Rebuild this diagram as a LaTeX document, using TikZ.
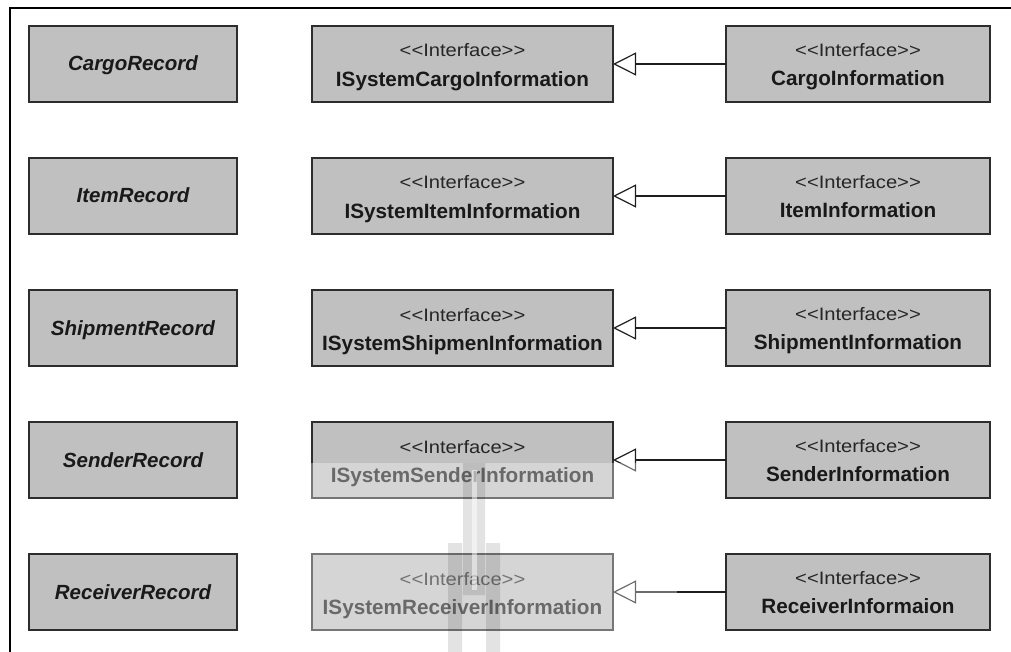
\documentclass[tikz,border=0pt]{standalone}
\usepackage{fontspec}
\setmainfont{Liberation Sans}
\newfontfamily\stereofont[FakeStretch=1.12]{Liberation Sans}
\usetikzlibrary{arrows.meta}

\definecolor{boxfill}{RGB}{192,192,192}
\definecolor{boxline}{RGB}{45,45,45}
\definecolor{linecol}{RGB}{30,30,30}

\begin{document}
\begin{tikzpicture}[x=1pt,y=-1pt,
  umlbox/.style={draw=boxline, fill=boxfill, line width=1.4pt,
    minimum height=76pt, inner sep=0pt, outer sep=0pt},
  recordbox/.style={umlbox, minimum width=208pt},
  ifacebox/.style={umlbox, minimum width=301pt},
  implbox/.style={umlbox, minimum width=264pt},
  recname/.style={anchor=base, inner sep=0pt, text=black!90,
    font=\fontsize{20.5}{24}\selectfont\bfseries\itshape},
  stereo/.style={anchor=base, inner sep=0pt, text=black!85,
    font=\stereofont\fontsize{18}{21}\selectfont},
  ifname/.style={anchor=base, inner sep=0pt, text=black!90,
    font=\fontsize{20.7}{24}\selectfont\bfseries},
  realize/.style={draw=linecol, line width=1.2pt,
    -{Triangle[open, length=23pt, width=23pt, line width=1.2pt]}}
]
\useasboundingbox (0,0) rectangle (1011,652);

% outer frame (top and left edges)
\draw[line width=2pt, black] (9.5,652) -- (9.5,8) -- (1011,8);

% one row per record: record class, system interface, information interface
\foreach \i/\rec/\sys/\inf in {
  1/CargoRecord/ISystemCargoInformation/CargoInformation,
  2/ItemRecord/ISystemItemInformation/ItemInformation,
  3/ShipmentRecord/ISystemShipmenInformation/ShipmentInformation,
  4/SenderRecord/ISystemSenderInformation/SenderInformation,
  5/ReceiverRecord/ISystemReceiverInformation/ReceiverInformaion}{
  \pgfmathsetmacro\yy{64+132*(\i-1)}
  \node[recordbox] (rec\i) at (133,\yy) {};
  \node[ifacebox]  (sys\i) at (462.5,\yy) {};
  \node[implbox]   (inf\i) at (858,\yy) {};
  \path (rec\i.north) ++(0,45) node[recname] (recT\i) {\rec};
  \path (sys\i.north) ++(0,31) node[stereo] (sysS\i) {<<Interface>>};
  \path (sys\i.north) ++(0,60.7) node[ifname] (sysT\i) {\sys};
  \path (inf\i.north) ++(0,30.5) node[stereo] (infS\i) {<<Interface>>};
  \path (inf\i.north) ++(0,59.7) node[ifname] (infT\i) {\inf};
  \draw[realize] (inf\i.west) -- (sys\i.east);
}

% faint tower watermark over the lower part of the middle column
\fill[white, opacity=0.35] (305,463) rectangle (677,652);
\fill[black, opacity=0.11]
  (463,463) rectangle (485,595)
  (448,543) rectangle (462,652)
  (486,543) rectangle (500,652);
\fill[white, opacity=0.5] (472,470) rectangle (477,590);
\end{tikzpicture}
\end{document}
